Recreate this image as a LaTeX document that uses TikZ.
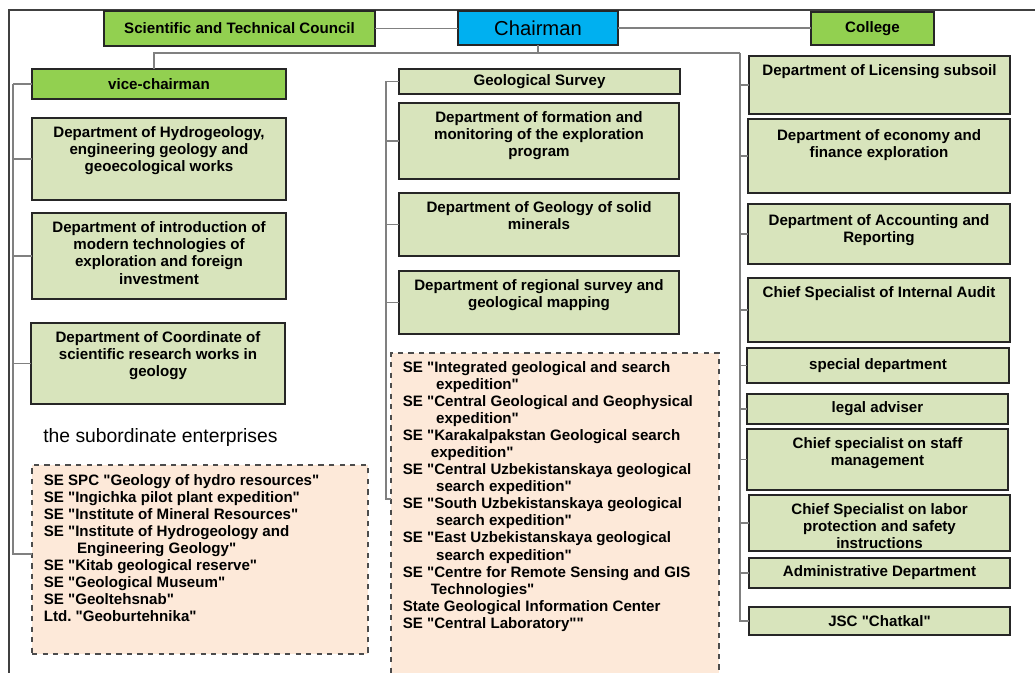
\documentclass[tikz,border=0pt]{standalone}
\usepackage{fontspec}
\setmainfont{Liberation Sans}[Ligatures=TeXOff]
\usetikzlibrary{fit,calc,positioning}

\definecolor{titlegreen}{HTML}{92D050}
\definecolor{chairblue}{HTML}{00B0F0}
\definecolor{deptgreen}{HTML}{D8E4BC}
\definecolor{sepeach}{HTML}{FDE9D9}
\definecolor{linegray}{HTML}{808080}

\tikzset{
  box/.style={rectangle, draw=black!85, line width=0.8pt, inner sep=0pt, outer sep=0pt},
  title/.style={box, fill=titlegreen},
  dept/.style={box, fill=deptgreen},
  sebox/.style={box, draw=black!70, dashed, fill=sepeach},
  dlab/.style={anchor=north, yshift=-4.9pt, align=center, inner sep=0pt,
    font=\fontsize{8.6}{9.7}\selectfont\bfseries},
  clab/.style={anchor=center, align=center, inner sep=0pt,
    font=\fontsize{8.6}{9.7}\selectfont\bfseries},
  slab/.style={anchor=north west, xshift=6.5pt, yshift=-5.2pt, align=left, inner sep=0pt,
    font=\fontsize{8.6}{9.7}\selectfont\bfseries},
  conn/.style={draw=linegray, line width=0.9pt},
}

\begin{document}
\frenchspacing
\begin{tikzpicture}[x=0.02cm, y=-0.02cm]
\useasboundingbox (0,0) rectangle (1035,673);

% frame
\draw[black!75, line width=0.8pt] (9,673) -- (9,10) -- (1035,10);

% top row
\node[title, fit={(104,11) (375,46)}, label={[clab]center:Scientific and Technical Council}] (sci) {};
\node[box, fill=chairblue, fit={(458,11) (618,45)}, label={[clab, font=\fontsize{11.5}{13}\selectfont]center:Chairman}] (chair) {};
\node[title, fit={(811,12) (934,45)}, label={[clab]center:College}] (college) {};

% left column
\node[title, fit={(32,69) (286,99)}, label={[clab]center:vice-chairman}] (vice) {};
\node[dept, fit={(32,118) (286,200)}, label={[dlab]north:Department of Hydrogeology,\\ engineering geology and\\ geoecological works}] (hydro) {};
\node[dept, fit={(32,213) (286,299)}, label={[dlab]north:Department of introduction of\\ modern technologies of\\ exploration and foreign\\ investment}] (modern) {};
\node[dept, fit={(31,323) (285,404)}, label={[dlab]north:Department of Coordinate of\\ scientific research works in\\ geology}] (coord) {};
\node[anchor=west, inner sep=0pt, font=\fontsize{11}{13}\selectfont] (subhead) at (43,437) {the subordinate enterprises};
\node[sebox, fit={(32,465) (368,654)}, label={[slab]north west:SE SPC "Geology of hydro resources"\\
SE "Ingichka pilot plant expedition"\\
SE "Institute of Mineral Resources"\\
SE "Institute of Hydrogeology and\\
\hspace*{19pt}Engineering Geology"\\
SE "Kitab geological reserve"\\
SE "Geological Museum"\\
SE "Geoltehsnab"\\
Ltd.\ "Geoburtehnika"}] (seL) {};

% middle column
\node[dept, fit={(399,69) (680,94)}, label={[clab]center:Geological Survey}] (survey) {};
\node[dept, fit={(399,103) (679,179)}, label={[dlab]north:Department of formation and\\ monitoring of the exploration\\ program}] (formation) {};
\node[dept, fit={(399,193) (679,256)}, label={[dlab]north:Department of Geology of solid\\ minerals}] (solid) {};
\node[dept, fit={(399,271) (679,334)}, label={[dlab]north:Department of regional survey and\\ geological mapping}] (regional) {};
\node[sebox, fit={(391,353) (719,700)}, label={[slab, yshift=0.5pt]north west:SE "Integrated geological and search\\
\hspace*{19pt}expedition"\\
SE "Central Geological and Geophysical\\
\hspace*{19pt}expedition"\\
SE "Karakalpakstan Geological search\\
\hspace*{16pt}expedition"\\
SE "Central Uzbekistanskaya geological\\
\hspace*{19pt}search expedition"\\
SE "South Uzbekistanskaya geological\\
\hspace*{19pt}search expedition"\\
SE "East Uzbekistanskaya geological\\
\hspace*{19pt}search expedition"\\
SE "Centre for Remote Sensing and GIS\\
\hspace*{16pt}Technologies"\\
State Geological Information Center\\
SE "Central Laboratory""}] (seM) {};

% right column
\node[dept, fit={(749,56) (1010,114)}, label={[dlab]north:Department of Licensing subsoil}] (lic) {};
\node[dept, fit={(748,119) (1010,193)}, label={[dlab, yshift=-1pt]north:Department of economy and\\ finance exploration}] (econ) {};
\node[dept, fit={(748,204) (1010,264)}, label={[dlab, yshift=-1pt]north:Department of Accounting and\\ Reporting}] (acct) {};
\node[dept, fit={(748,278) (1010,342)}, label={[dlab]north:Chief Specialist of Internal Audit}] (audit) {};
\node[dept, fit={(747,348) (1009,383)}, label={[clab]center:special department}] (special) {};
\node[dept, fit={(747,394) (1008,424)}, label={[clab]center:legal adviser}] (legal) {};
\node[dept, fit={(747,429) (1008,490)}, label={[dlab]north:Chief specialist on staff\\ management}] (staff) {};
\node[dept, fit={(749,495) (1010,551)}, label={[dlab, yshift=0.5pt]north:Chief Specialist on labor\\ protection and safety\\ instructions}] (labor) {};
\node[dept, fit={(749,558) (1010,588)}, label={[clab]center:Administrative Department}] (admin) {};
\node[dept, fit={(749,607) (1010,635)}, label={[clab]center:JSC "Chatkal"}] (jsc) {};

% connectors
\coordinate (busL) at (154,53);
\coordinate (busR) at (740,53);
\coordinate (ltrunk) at (13,84);
\coordinate (mtrunk) at (386,82);

\draw[conn] (sci.east) -- (sci.east -| chair.west);
\draw[conn] (chair.east) -- (chair.east -| college.west);
\draw[conn] (chair.south) -- (chair.south |- busL);
\draw[conn] (vice.north -| busL) -- (busL) -- (busR);

\foreach \n in {vice,hydro,modern,coord}
  \draw[conn] (ltrunk) |- (\n.west);
\draw[conn] (ltrunk) |- ($(seL.north west)+(0,89)$);

\foreach \n in {survey,formation,solid,regional}
  \draw[conn] (mtrunk) |- (\n.west);
\draw[conn] (mtrunk) |- ($(seM.north west)+(0,146)$);

\foreach \n in {lic,econ,acct,audit,special,legal,staff,labor,admin,jsc}
  \draw[conn] (busR) |- (\n.west);
\end{tikzpicture}
\end{document}
